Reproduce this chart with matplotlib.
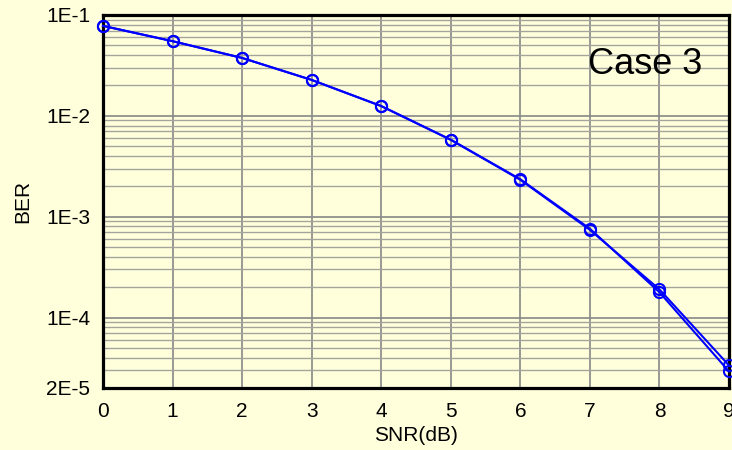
import numpy as np
import matplotlib
matplotlib.use('Agg')
import matplotlib.pyplot as plt
from matplotlib.ticker import FixedLocator, NullFormatter

plt.rcParams['font.family'] = ['Liberation Sans', 'DejaVu Sans']

snr = [0, 1, 2, 3, 4, 5, 6, 7, 8, 9]
ber_a = [0.078, 0.055, 0.0375, 0.0227, 0.0125, 0.00578, 0.00232, 7.4e-4, 1.9e-4, 3.35e-5]
ber_b = [0.078, 0.055, 0.0375, 0.0227, 0.0125, 0.00580, 0.00235, 7.6e-4, 1.78e-4, 2.92e-5]
ytick_vals = [1e-1, 1e-2, 1e-3, 1e-4, 2e-5]
ytick_labels = ['1E-1', '1E-2', '1E-3', '1E-4', '2E-5']

bg = '#FFFFDC'
fig = plt.figure(figsize=(7.32, 4.5), dpi=100, facecolor=bg)
ax = fig.add_axes([103/732, 1 - 388/450, 626/732, 373/450])
ax.set_facecolor(bg)

for ber in (ber_a, ber_b):
    ax.plot(snr, ber, color='#0000FF', lw=1.5, marker='o', ms=8,
            mfc='none', mec='#0000FF', mew=1.5, clip_on=False, zorder=3)

ax.set_yscale('log')
ax.set_xlim(0, 9)
ax.set_ylim(2e-5, 1e-1)

ax.set_xticks(snr)
ax.yaxis.set_major_locator(FixedLocator(ytick_vals))
ax.set_yticklabels(ytick_labels)
minor = [m * 10.0**e for e in range(-5, -1) for m in range(2, 10)]
minor = [v for v in minor if 2e-5 < v < 1e-1]
ax.yaxis.set_minor_locator(FixedLocator(minor))
ax.yaxis.set_minor_formatter(NullFormatter())

ax.grid(True, which='major', axis='both', color='#888888', lw=1.2)
ax.grid(True, which='minor', axis='y', color='#A4A49C', lw=1.0)
ax.set_axisbelow(True)

ax.tick_params(which='both', length=0, labelsize=15)
ax.tick_params(axis='x', pad=10)
ax.tick_params(axis='y', pad=9)
for s in ax.spines.values():
    s.set_linewidth(2.3)
    s.set_color('black')

ax.set_xlabel('SNR(dB)', fontsize=15, labelpad=4)
ax.set_ylabel('BER', fontsize=15, labelpad=10)
ax.text(0.958, 0.866, 'Case 3', transform=ax.transAxes, fontsize=26,
        ha='right', va='center')

plt.savefig('out.png', dpi=100, facecolor=bg)
